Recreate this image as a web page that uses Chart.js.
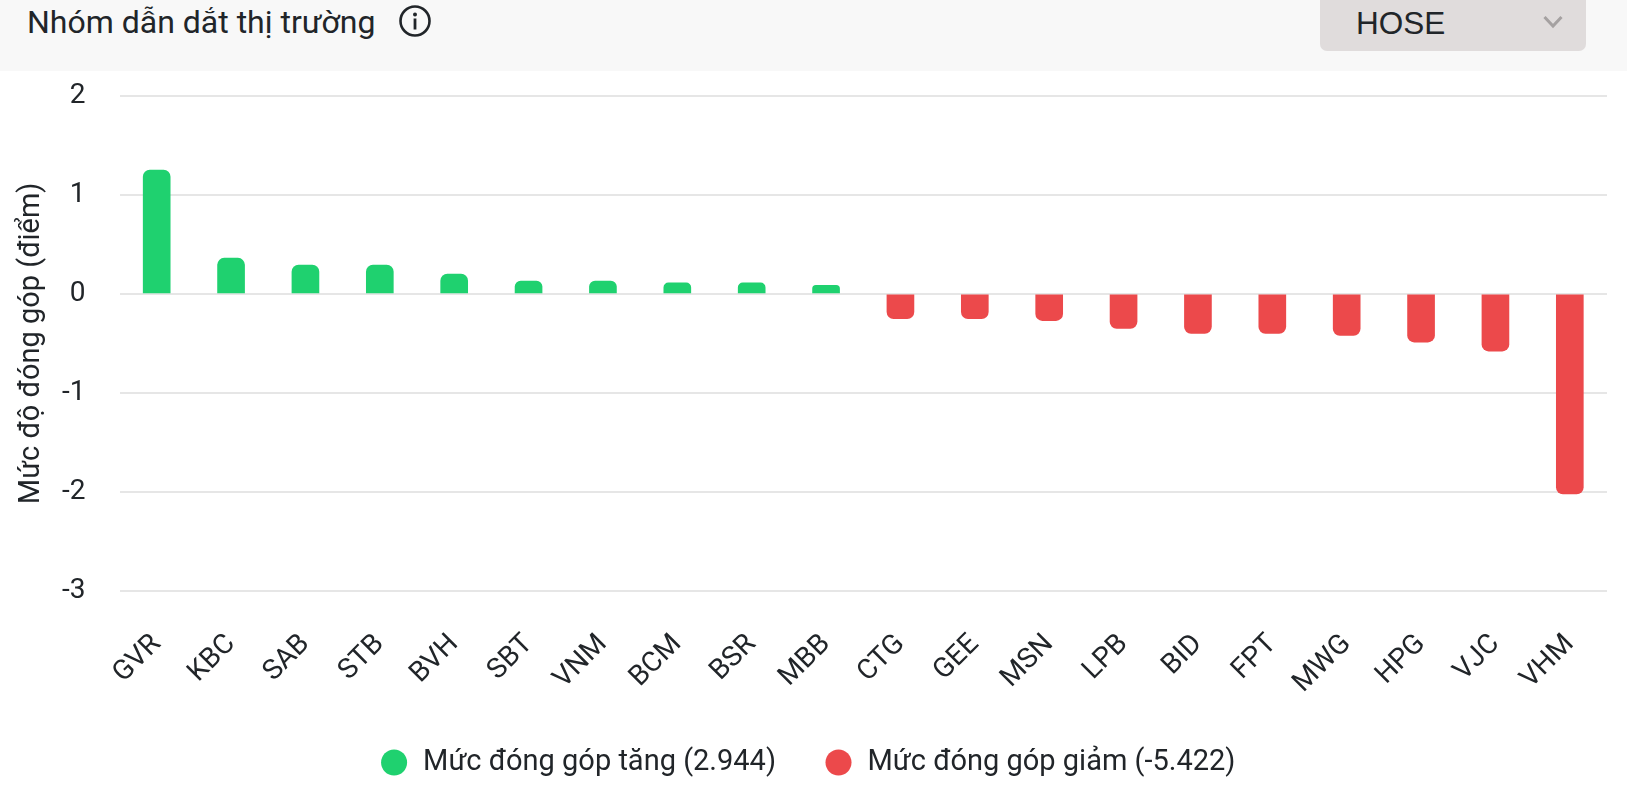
<!DOCTYPE html>
<html lang="vi">
<head>
<meta charset="utf-8">
<title>Nhóm dẫn dắt thị trường</title>
<script src="https://cdn.jsdelivr.net/npm/chart.js@4"></script>
<style>
    html, body { margin: 0; padding: 0; background: #fff; overflow: hidden; }
    body { width: 1627px; height: 791px; position: relative; font-family: Roboto, sans-serif; color: #212529; }
    .header { position: absolute; left: 0; top: 0; width: 1627px; height: 71px; background: #f8f8f8; }
    .title { position: absolute; left: 27px; top: 2px; font-size: 32px; line-height: 40px; white-space: nowrap; }
    .info { position: absolute; left: 398px; top: 4px; }
    .market { position: absolute; left: 1320px; top: -10px; width: 266px; height: 61px; background: #e0dcdc; border-radius: 7px; }
    .market span { position: absolute; left: 36px; top: 13px; font: 31.5px/40px "Liberation Sans", sans-serif; }
    .market svg { position: absolute; left: 223px; top: 25px; }
    .chart-box { position: absolute; left: 0; top: 45px; width: 1627px; height: 742px; }
</style>
</head>
<body>
<div class="header">
    <div class="title">Nhóm dẫn dắt thị trường</div>
    <svg class="info" width="34" height="34" viewBox="0 0 34 34">
        <circle cx="17" cy="17" r="14.5" fill="none" stroke="#212529" stroke-width="2.6"/>
        <circle cx="17" cy="10.5" r="2" fill="#212529"/>
        <rect x="15.6" y="14.5" width="2.8" height="11" fill="#212529"/>
    </svg>
    <div class="market">
        <span>HOSE</span>
        <svg width="20" height="14" viewBox="0 0 20 14">
            <path d="M1.5 2 L10 11 L18.5 2" fill="none" stroke="#a5a1a1" stroke-width="3"/>
        </svg>
    </div>
</div>
<div class="chart-box"><canvas id="leadersChart" width="1627" height="742"></canvas></div>

<script>
const categories = ['GVR', 'KBC', 'SAB', 'STB', 'BVH', 'SBT', 'VNM', 'BCM', 'BSR', 'MBB',
    'CTG', 'GEE', 'MSN', 'LPB', 'BID', 'FPT', 'MWG', 'HPG', 'VJC', 'VHM'];
const gainValues = [1.25, 0.36, 0.29, 0.29, 0.2, 0.13, 0.13, 0.11, 0.11, 0.085,
    null, null, null, null, null, null, null, null, null, null];
const lossValues = [null, null, null, null, null, null, null, null, null, null,
    -0.25, -0.25, -0.27, -0.35, -0.4, -0.4, -0.42, -0.487, -0.578, -2.02];
const seriesNames = ['Mức đóng góp tăng (2.944)', 'Mức đóng góp giảm (-5.422)'];
const yTicks = [2, 1, 0, -1, -2, -3];
const yTitle = 'Mức độ đóng góp (điểm)';

const textColor = '#212529';
const font = { family: 'Roboto', size: 28 };

new Chart(document.getElementById('leadersChart'), {
    type: 'bar',
    data: {
        labels: categories,
        datasets: [
            { label: seriesNames[0], data: gainValues, backgroundColor: '#1fd16f', barThickness: 27, borderRadius: 7 },
            { label: seriesNames[1], data: lossValues, backgroundColor: '#ec494b', barThickness: 27, borderRadius: 7 }
        ]
    },
    options: {
        responsive: false,
        animation: false,
        layout: { padding: { left: 8, right: 20, top: 0, bottom: 0 } },
        plugins: {
            tooltip: { enabled: false },
            legend: {
                position: 'bottom',
                labels: {
                    usePointStyle: true,
                    pointStyle: 'circle',
                    boxHeight: 18.4,
                    padding: 48,
                    color: textColor,
                    font: { family: 'Roboto', size: 29 }
                }
            }
        },
        scales: {
            x: {
                stacked: true,
                afterFit: axis => { axis.height -= 29; },
                grid: { display: false },
                border: { display: false },
                ticks: { color: textColor, font: font, maxRotation: 45, minRotation: 45, autoSkip: false, padding: 29 }
            },
            y: {
                stacked: true,
                min: -3,
                max: 2,
                afterBuildTicks: axis => { axis.ticks = yTicks.map(value => ({ value })); },
                afterFit: axis => { axis.width = 111.5; },
                grid: { color: '#e6e6e6', lineWidth: 2, drawTicks: false },
                border: { display: false },
                title: { display: true, text: yTitle, color: textColor, font: { family: 'Roboto', size: 29 }, padding: { top: 6, bottom: 16 } },
                ticks: { color: textColor, font: font, padding: 34 }
            }
        }
    }
});
</script>
</body>
</html>
